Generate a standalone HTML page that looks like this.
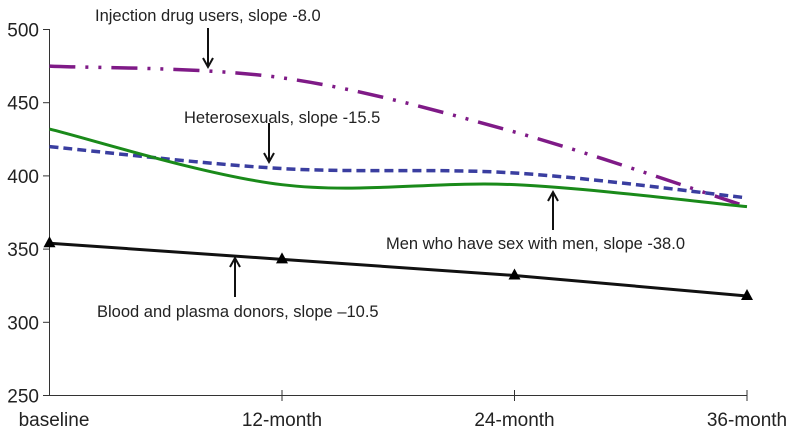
<!DOCTYPE html>
<html><head><meta charset="utf-8"><style>
body{margin:0;background:#fff;}
svg{display:block;font-family:"Liberation Sans",sans-serif;}
</style></head><body>
<svg id="chart" width="800" height="434"></svg>
<script>
const categories=["baseline","12-month","24-month","36-month"];
const yTicks=[250,300,350,400,450,500];
const idu=[475,467,430,379];
const hetero=[420,405,402,385];
const msm=[432,394,394,379];
const blood=[354,343,332,318];
const svg=document.getElementById('chart');
const NS='http://www.w3.org/2000/svg';
const x=i=>49.5+i*(747-49.5)/(categories.length-1);
const y=v=>395.5-(v-250)*366/250;
function el(t,a,p){const e=document.createElementNS(NS,t);for(const k in a)e.setAttribute(k,a[k]);(p||svg).appendChild(e);return e;}
function spline(vals){const p=vals.map((v,i)=>[x(i),y(v)]);let d=`M${p[0][0]},${p[0][1]}`;
for(let i=0;i<p.length-1;i++){const p0=p[Math.max(i-1,0)],p1=p[i],p2=p[i+1],p3=p[Math.min(i+2,p.length-1)];
const c1=[p1[0]+(p2[0]-p0[0])/6,p1[1]+(p2[1]-p0[1])/6],c2=[p2[0]-(p3[0]-p1[0])/6,p2[1]-(p3[1]-p1[1])/6];
d+=` C${c1[0]},${c1[1]} ${c2[0]},${c2[1]} ${p2[0]},${p2[1]}`;}return d;}
let a=el('line',{x1:49.5,y1:29,x2:49.5,y2:395.5,stroke:'#333','stroke-width':1});

a=el('line',{x1:49.5,y1:395.5,x2:747,y2:395.5,stroke:'#333','stroke-width':1});

yTicks.forEach(v=>{el('line',{x1:43,y1:y(v),x2:49.5,y2:y(v),stroke:'#333'});
const t=el('text',{x:39,y:y(v)+7,'text-anchor':'end','font-size':19,fill:'#222'});t.textContent=v;
});
categories.forEach((c,i)=>{if(i>0)el('line',{x1:x(i),y1:390,x2:x(i),y2:401,stroke:'#333'});
const t=el('text',{x:i==0?54:x(i),y:426,'text-anchor':'middle','font-size':19,fill:'#222'});t.textContent=c;
});
let s=el('path',{d:spline(idu),fill:'none',stroke:'#7f1a87','stroke-width':3.5,'stroke-dasharray':'26 10 3 10 3 10'});

s=el('path',{d:spline(hetero),fill:'none',stroke:'#3a3ea0','stroke-width':3.5,'stroke-dasharray':'9 5'});

s=el('path',{d:spline(msm),fill:'none',stroke:'#1a8a1a','stroke-width':3});

s=el('path',{d:blood.map((v,i)=>(i?'L':'M')+x(i)+','+y(v)).join(' '),fill:'none',stroke:'#111','stroke-width':3});

blood.forEach((v,i)=>{const m=el('path',{d:`M${x(i)},${y(v)-7} L${x(i)+6},${y(v)+4} L${x(i)-6},${y(v)+4}Z`,fill:'#000'});
});
function ann(text,tx,ty,ax,y1,y2,name){const t=el('text',{x:tx,y:ty,'font-size':16.5,fill:'#222'});t.textContent=text;

const g=el('g',{stroke:'#111','stroke-width':2,fill:'none'});
el('line',{x1:ax,y1:y1,x2:ax,y2:y2},g);const d=y2>y1?-1:1;
el('path',{d:`M${ax-5},${y2+d*9} L${ax},${y2} L${ax+5},${y2+d*9}`},g);}
ann('Injection drug users, slope -8.0',95,21,208,28,67,'idu');
ann('Heterosexuals, slope -15.5',184,123,269,123,162,'heterosexual');
ann('Men who have sex with men, slope -38.0',386,249,553,230,192,'msm');
ann('Blood and plasma donors, slope \u201310.5',97,317,235,297,258,'blood-donor');
</script>
</body></html>
